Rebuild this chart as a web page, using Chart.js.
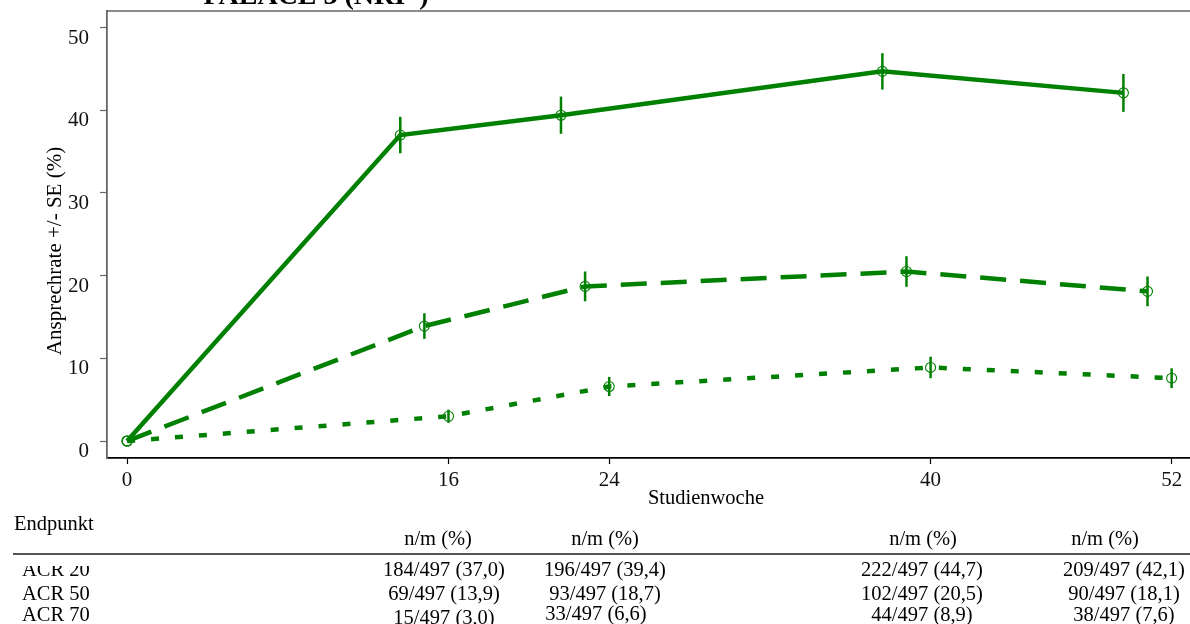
<!DOCTYPE html>
<html>
<head>
<meta charset="utf-8">
<script src="https://cdn.jsdelivr.net/npm/chart.js@4.4.1/dist/chart.umd.min.js"></script>
<style>
  html, body { margin: 0; padding: 0; background: #fff; overflow: hidden; }
  #wrap { width: 1190px; height: 624px; overflow: hidden; }
</style>
</head>
<body>
<div id="wrap"><canvas id="chart" width="1240" height="624"></canvas></div>
<script>
// Studienwochen (Achse) und Ansprechraten je Endpunkt
const weeks = [0, 16, 24, 40, 52];
const yTicks = [0, 10, 20, 30, 40, 50];

// x-Positionen der Punkte (im Bild leicht versetzt)
const acr20Weeks = [0, 13.6, 21.6, 37.6, 49.6];
const acr50Weeks = [0, 14.8, 22.8, 38.8, 50.8];
const acr70Weeks = [0, 16.0, 24.0, 40.0, 52.0];

const acr20 = [0, 37.0, 39.4, 44.7, 42.1];
const acr50 = [0, 13.9, 18.7, 20.5, 18.1];
const acr70 = [0, 3.0, 6.6, 8.9, 7.6];

// Standardfehler
const acr20Se = [0, 2.2, 2.25, 2.2, 2.3];
const acr50Se = [0, 1.55, 1.8, 1.85, 1.8];
const acr70Se = [0, 0.8, 1.15, 1.3, 1.2];

// Tabelle unter der Grafik
const tableTitle = "Endpunkt";
const tableHeader = "n/m (%)";
const rowLabels = ["ACR 20", "ACR 50", "ACR 70"];
const acr20Cells = ["184/497 (37,0)", "196/497 (39,4)", "222/497 (44,7)", "209/497 (42,1)"];
const acr50Cells = ["69/497 (13,9)", "93/497 (18,7)", "102/497 (20,5)", "90/497 (18,1)"];
const acr70Cells = ["15/497 (3,0)", "33/497 (6,6)", "44/497 (8,9)", "38/497 (7,6)"];

const title = "PALACE 3 (NRI*)";
const xTitle = "Studienwoche";
const yTitle = "Ansprechrate +/- SE (%)";

const green = "#008000";
const serif = "'Liberation Serif', 'Times New Roman', serif";

function pts(xs, ys) {
    return xs.map((x, i) => ({x: x, y: ys[i]}));
}

function makeSet(xs, ys, dash) {
    return {
        data: pts(xs, ys),
        borderColor: green,
        borderWidth: 4.5,
        borderDash: dash,
        borderCapStyle: 'butt',
        tension: 0,
        fill: false,
        pointRadius: 5,
        pointBorderWidth: 1.1,
        pointBorderColor: green,
        pointBackgroundColor: 'rgba(0,0,0,0)'
    };
}

const seList = [acr20Se, acr50Se, acr70Se];
const valList = [acr20, acr50, acr70];
const xList = [acr20Weeks, acr50Weeks, acr70Weeks];

const errorBars = {
    id: 'errorBars',
    afterDatasetsDraw(chart) {
        const {ctx, scales: {x, y}} = chart;
        ctx.save();
        ctx.strokeStyle = green;
        ctx.lineWidth = 2.5;
        valList.forEach((vals, d) => {
            vals.forEach((v, i) => {
                const se = seList[d][i];
                if (!se) return;
                const px = x.getPixelForValue(xList[d][i]);
                ctx.beginPath();
                ctx.moveTo(px, y.getPixelForValue(v - se));
                ctx.lineTo(px, y.getPixelForValue(v + se));
                ctx.stroke();
            });
        });
        ctx.restore();
    }
};

const texts = {
    id: 'texts',
    afterDraw(chart) {
        const {ctx, chartArea} = chart;
        ctx.save();
        // obere Rahmenlinie
        ctx.strokeStyle = '#666';
        ctx.lineWidth = 1.5;
        ctx.beginPath();
        ctx.moveTo(chartArea.left, chartArea.top);
        ctx.lineTo(chartArea.right, chartArea.top);
        ctx.stroke();

        ctx.fillStyle = '#000';
        ctx.textBaseline = 'alphabetic';

        ctx.font = "bold 28px " + serif;
        ctx.textAlign = 'center';
        ctx.fillText(title, 316, 4);

        ctx.font = "20.5px " + serif;
        ctx.fillText(xTitle, 706, 504);

        ctx.save();
        ctx.translate(61, 251);
        ctx.rotate(-Math.PI / 2);
        ctx.font = "21px " + serif;
        ctx.fillText(yTitle, 0, 0);
        ctx.restore();

        // Tabelle
        ctx.font = "20.5px " + serif;
        ctx.textAlign = 'left';
        ctx.fillText(tableTitle, 14, 530);

        const headerX = [438, 605, 923, 1105];
        ctx.textAlign = 'center';
        headerX.forEach(hx => ctx.fillText(tableHeader, hx, 545));

        ctx.strokeStyle = '#555';
        ctx.lineWidth = 1.8;
        ctx.beginPath();
        ctx.moveTo(13, 554);
        ctx.lineTo(1240, 554);
        ctx.stroke();

        const rowY = [576, 600, 621];
        ctx.textAlign = 'left';
        rowLabels.forEach((lab, r) => {
            ctx.save();
            if (r === 0) {
                ctx.beginPath();
                ctx.rect(0, 566, 200, 20);
                ctx.clip();
            }
            ctx.fillText(lab, 22, rowY[r]);
            ctx.restore();
        });

        const colX = [444, 605, 922, 1124];
        const row3Shift = [3, -1, 0, 0];
        ctx.textAlign = 'center';
        [acr20Cells, acr50Cells, acr70Cells].forEach((cells, r) => {
            cells.forEach((c, i) => {
                const dy = r === 2 ? row3Shift[i] : 0;
                const dx = (r === 2 && i === 1) ? -9 : 0;
                ctx.fillText(c, colX[i] + dx, rowY[r] + dy);
            });
        });
        ctx.restore();
    }
};

new Chart(document.getElementById('chart'), {
    type: 'line',
    data: {
        datasets: [
            makeSet(acr20Weeks, acr20, []),
            makeSet(acr50Weeks, acr50, [26, 14]),
            makeSet(acr70Weeks, acr70, [8, 16])
        ]
    },
    options: {
        responsive: false,
        animation: false,
        devicePixelRatio: 1,
        layout: { padding: { top: 11, left: 0, right: 0, bottom: 0 } },
        plugins: { legend: { display: false }, tooltip: { enabled: false } },
        scales: {
            x: {
                type: 'linear',
                min: -1,
                max: 55.1,
                afterBuildTicks: s => { s.ticks = weeks.map(v => ({value: v})); },
                afterFit: s => {
                    s.height = 166;
                    s.paddingLeft = 0; s.paddingRight = 0;
                },
                grid: { drawOnChartArea: false, drawTicks: true, tickLength: 6, tickColor: '#000', tickWidth: 1.2 },
                border: { color: '#000', width: 1.8 },
                ticks: { font: { family: serif, size: 21 }, color: '#111', padding: 4, maxRotation: 0 }
            },
            y: {
                min: -2.05,
                max: 52,
                afterBuildTicks: s => { s.ticks = yTicks.map(v => ({value: v})); },
                afterFit: s => {
                    s.width = 107;
                    s.paddingTop = 0; s.paddingBottom = 0;
                },
                grid: { drawOnChartArea: false, drawTicks: true, tickLength: 7, tickColor: '#666', tickWidth: 1.2 },
                border: { color: '#666', width: 1.8 },
                ticks: { font: { family: serif, size: 21 }, color: '#111', padding: 11, labelOffset: 10.5 }
            }
        }
    },
    plugins: [errorBars, texts]
});
</script>
</body>
</html>
